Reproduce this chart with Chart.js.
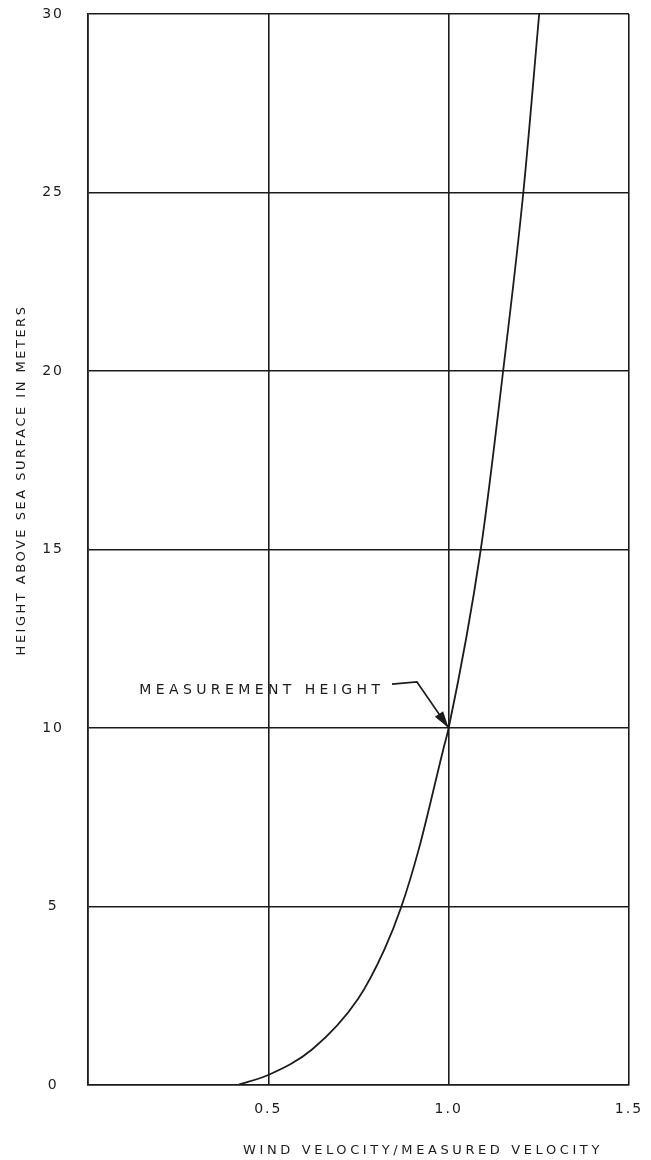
<!DOCTYPE html>
<html>
<head>
<meta charset="utf-8">
<title>Wind velocity profile</title>
<script src="https://cdn.jsdelivr.net/npm/chart.js@4/dist/chart.umd.min.js"></script>
<style>
  html, body { margin: 0; padding: 0; background: #fff; }
  #wrap { width: 651px; height: 1160px; }
</style>
</head>
<body>
<div id="wrap"><canvas id="profileChart" width="651" height="1160"></canvas></div>
<script>
    // values
    const heightMeters  = [0, 0.28, 1.0, 2.4, 3.8, 5, 6.6, 9.4, 10, 15, 20, 25, 30];
    const velocityRatio = [0.415, 0.5, 0.622, 0.748, 0.822, 0.869, 0.917, 0.985, 1.0, 1.089, 1.151, 1.207, 1.251];
    const xTicks = [0, 0.5, 1.0, 1.5];
    const xTickLabels = ['', '0.5', '1.0', '1.5'];
    const yTicks = [0, 5, 10, 15, 20, 25, 30];

    const xTitle = 'WIND VELOCITY/MEASURED VELOCITY';
    const yTitle = 'HEIGHT ABOVE SEA SURFACE IN METERS';
    const noteText = 'MEASUREMENT HEIGHT';
    const notePoint = { x: 1.0, y: 10 };

    const ink = '#1c1c1c';
    const font = '"DejaVu Sans", sans-serif';

    const labelsPlugin = {
        id: 'labels',
        beforeDraw(chart) {
            // lettering on the original is widely spaced
            chart.ctx.letterSpacing = '2px';
        },
        afterDraw(chart) {
            const c = chart.ctx;
            const xs = chart.scales.x, ys = chart.scales.y;
            c.save();
            c.fillStyle = ink;
            c.strokeStyle = ink;
            c.font = '13px ' + font;

            // axis titles
            c.textAlign = 'center';
            c.textBaseline = 'middle';
            c.letterSpacing = '3.6px';
            c.fillText(xTitle, 423, 1151);
            c.save();
            c.translate(22, 480);
            c.rotate(-Math.PI / 2);
            c.letterSpacing = '2.5px';
            c.fillText(yTitle, 0, 0);
            c.restore();

            // measurement height note with arrow
            const tipX = xs.getPixelForValue(notePoint.x);
            const tipY = ys.getPixelForValue(notePoint.y);
            const kneeX = xs.getPixelForValue(0.912), kneeY = ys.getPixelForValue(11.29);
            const startX = xs.getPixelForValue(0.843), startY = ys.getPixelForValue(11.23);
            c.font = '14px ' + font;
            c.letterSpacing = '4.4px';
            c.textAlign = 'right';
            c.fillText(noteText, xs.getPixelForValue(0.822), ys.getPixelForValue(11.06));

            c.lineWidth = 1.6;
            c.beginPath();
            c.moveTo(startX, startY);
            c.lineTo(kneeX, kneeY);
            c.lineTo(tipX, tipY);
            c.stroke();

            const ang = Math.atan2(tipY - kneeY, tipX - kneeX);
            const len = 17, half = 5;
            const bx = tipX - len * Math.cos(ang), by = tipY - len * Math.sin(ang);
            c.beginPath();
            c.moveTo(tipX, tipY);
            c.lineTo(bx + half * Math.sin(ang), by - half * Math.cos(ang));
            c.lineTo(bx - half * Math.sin(ang), by + half * Math.cos(ang));
            c.closePath();
            c.fill();
            c.restore();
            c.letterSpacing = '0px';
        }
    };

    const ctx = document.getElementById('profileChart').getContext('2d');

    new Chart(ctx, {
        type: 'scatter',
        data: {
            datasets: [{
                label: 'Wind profile',
                data: velocityRatio.map((v, i) => ({ x: v, y: heightMeters[i] })),
                showLine: true,
                borderColor: ink,
                borderWidth: 1.8,
                pointRadius: 0,
                cubicInterpolationMode: 'monotone',
                fill: false
            }]
        },
        options: {
            responsive: false,
            animation: false,
            devicePixelRatio: 1,
            layout: { padding: { top: 14, right: 22, bottom: 0, left: 0 } },
            plugins: {
                legend: { display: false },
                tooltip: { enabled: false }
            },
            scales: {
                x: {
                    type: 'linear',
                    min: 0,
                    max: 1.5,
                    afterBuildTicks: s => { s.ticks = xTicks.map(v => ({ value: v })); },
                    afterFit: s => {
                        s.height = 75;
                        s.paddingLeft = 0;
                        s.paddingRight = 12;
                    },
                    grid: { color: ink, lineWidth: 1.6, drawTicks: false },
                    border: { color: ink, width: 1.6 },
                    ticks: {
                        padding: 16,
                        color: ink,
                        font: { family: font, size: 14 },
                        callback: (v, i) => xTickLabels[i]
                    }
                },
                y: {
                    type: 'linear',
                    min: 0,
                    max: 30,
                    afterBuildTicks: s => { s.ticks = yTicks.map(v => ({ value: v })); },
                    afterFit: s => {
                        s.width = 88;
                        s.paddingTop = 8;
                        s.paddingBottom = 8;
                    },
                    grid: { color: ink, lineWidth: 1.4, drawTicks: false },
                    border: { color: ink, width: 1.6 },
                    ticks: {
                        padding: 26,
                        crossAlign: 'center',
                        color: ink,
                        font: { family: font, size: 14 }
                    }
                }
            }
        },
        plugins: [labelsPlugin]
    });
</script>
</body>
</html>
